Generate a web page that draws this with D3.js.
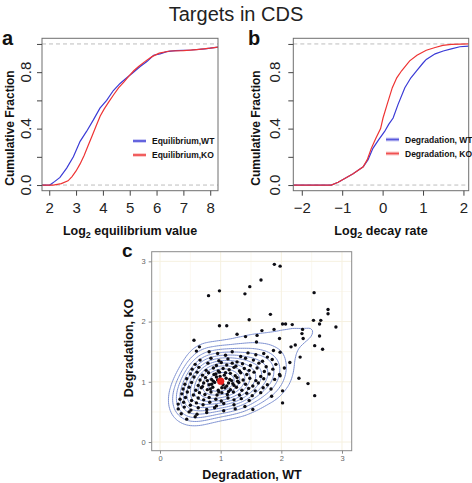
<!DOCTYPE html>
<html><head><meta charset="utf-8">
<script src="https://cdn.jsdelivr.net/npm/d3@7"></script>
<style>body{margin:0;background:#fff}svg{display:block;font-family:"Liberation Sans",Arial,sans-serif}</style>
</head><body><svg id="c" width="472" height="483"></svg>
<script>
// ---- data ----
const titleText = "Targets in CDS";
const eqTicks = [2,3,4,5,6,7,8];
const decayTicks = [-2,-1,0,1,2];
const fracTicks = [0,0.2,0.4,0.6,0.8,1.0];
const fracLabels = [0,0.4,0.8];
const scatTicks = [0,1,2,3];
// ECDF curves: [value, cumulative fraction]
const eqWT = [[2.02,0],[2.21,0.026],[2.40,0.054],[2.65,0.12],[2.90,0.20],[3.15,0.31],[3.39,0.38],[3.64,0.46],[3.89,0.545],[4.14,0.60],[4.39,0.67],[4.64,0.72],[4.89,0.76],[5.14,0.80],[5.39,0.84],[5.64,0.875],[5.89,0.92],[6.13,0.93],[6.38,0.945],[6.7,0.952],[7.3,0.957],[7.8,0.965],[8.29,0.978]];
const eqKO = [[2.15,0],[2.45,0.01],[2.7,0.03],[2.85,0.06],[3.0,0.10],[3.15,0.15],[3.3,0.21],[3.45,0.28],[3.6,0.35],[3.75,0.42],[3.9,0.49],[4.05,0.54],[4.22,0.59],[4.4,0.64],[4.59,0.69],[4.78,0.73],[4.96,0.77],[5.15,0.81],[5.33,0.84],[5.6,0.88],[5.83,0.91],[6.1,0.935],[6.5,0.95],[7.0,0.952],[7.5,0.96],[8.0,0.97],[8.29,0.978]];
const degWT = [[-1.27,0],[-1.1,0.02],[-0.98,0.04],[-0.73,0.08],[-0.48,0.13],[-0.36,0.18],[-0.24,0.26],[-0.1,0.32],[0.05,0.38],[0.15,0.43],[0.26,0.475],[0.38,0.57],[0.55,0.69],[0.7,0.76],[0.84,0.81],[1.0,0.865],[1.08,0.89],[1.3,0.93],[1.5,0.95],[1.7,0.965],[1.91,0.98],[2.13,0.985]];
const degKO = [[-1.27,0],[-1.1,0.02],[-0.98,0.04],[-0.73,0.08],[-0.48,0.13],[-0.38,0.18],[-0.28,0.26],[-0.17,0.33],[-0.05,0.40],[0.01,0.475],[0.11,0.57],[0.24,0.69],[0.35,0.76],[0.47,0.81],[0.67,0.88],[0.85,0.92],[1.08,0.955],[1.3,0.975],[1.49,0.99],[1.7,0.997],[2.13,1.0]];
// scatter: [Degradation WT, Degradation KO]
const scatterPts = [
[1.885,2.95],[1.98,2.92],[1.665,2.69],[1.48,2.58],[1.40,2.46],[0.98,2.51],[0.80,2.43],[2.54,2.48],[1.82,2.12],[1.47,2.03],[0.98,1.93],[1.10,1.93],[1.27,1.79],[0.56,1.69],[0.65,1.58],[0.60,1.51],[0.81,1.50],
[2.02,1.96],[2.07,1.96],[2.18,1.95],[1.88,1.87],[1.68,1.85],[1.60,1.77],[1.41,1.75],[1.59,1.66],[1.97,1.72],[2.35,1.87],[2.34,1.80],[2.36,1.72],[2.23,1.61],[2.16,1.58],[1.98,1.49],[1.87,1.52],[2.31,1.41],[2.14,1.32],[2.05,1.23],[1.98,1.10],[2.29,1.06],[2.44,0.97],[2.02,0.85],[1.84,0.76],[2.02,0.65],[2.55,0.77],
[2.77,2.13],[2.53,2.02],[2.65,2.02],[2.63,1.96],[2.77,2.20],[2.90,1.91],[2.63,1.76],[2.55,1.60],[2.68,1.54],
[0.95,1.47],[1.08,1.44],[1.19,1.50],[1.33,1.42],[1.45,1.48],[1.58,1.45],[1.71,1.47],[1.77,1.41],
[0.66,1.36],[0.84,1.39],[0.97,1.35],[1.12,1.38],[1.27,1.33],[1.41,1.39],[1.54,1.36],[1.69,1.34],[1.85,1.37],
[0.58,1.29],[0.79,1.31],[0.93,1.27],[1.01,1.32],[1.10,1.28],[1.19,1.31],[1.25,1.26],[1.36,1.30],[1.49,1.27],[1.63,1.31],[1.75,1.25],[1.91,1.29],
[0.53,1.21],[0.64,1.24],[0.76,1.19],[0.88,1.23],[0.96,1.18],[1.04,1.22],[1.14,1.20],[1.22,1.24],[1.31,1.18],[1.39,1.22],[1.47,1.19],[1.60,1.23],[1.72,1.17],[1.86,1.21],
[0.50,1.13],[0.61,1.16],[0.70,1.11],[0.80,1.15],[0.89,1.12],[0.98,1.16],[1.06,1.11],[1.16,1.14],[1.24,1.10],[1.33,1.15],[1.43,1.12],[1.55,1.16],[1.66,1.09],[1.80,1.13],[1.97,1.12],
[0.44,1.05],[0.56,1.08],[0.66,1.03],[0.75,1.07],[0.85,1.04],[0.93,1.08],[1.09,1.06],[1.18,1.02],[1.27,1.07],[1.37,1.03],[1.48,1.06],[1.58,1.02],[1.71,1.05],[1.89,1.04],
[0.41,0.96],[0.52,0.99],[0.63,0.94],[0.72,0.98],[0.81,0.95],[0.90,0.99],[1.04,0.95],[1.13,0.98],[1.22,0.94],[1.30,0.99],[1.41,0.96],[1.53,0.93],[1.62,0.98],[1.77,0.95],
[0.38,0.88],[0.48,0.91],[0.59,0.86],[0.68,0.90],[0.78,0.87],[0.87,0.91],[0.96,0.86],[1.07,0.90],[1.16,0.87],[1.26,0.91],[1.35,0.86],[1.46,0.89],[1.57,0.85],[1.70,0.90],[1.83,0.88],
[0.36,0.80],[0.45,0.83],[0.55,0.78],[0.65,0.82],[0.74,0.79],[0.84,0.83],[0.94,0.78],[1.02,0.82],[1.11,0.79],[1.21,0.83],[1.31,0.78],[1.43,0.81],[1.52,0.77],[1.66,0.82],
[0.33,0.71],[0.42,0.74],[0.52,0.69],[0.63,0.73],[0.72,0.70],[0.81,0.74],[0.92,0.71],[1.01,0.68],[1.12,0.73],[1.22,0.70],[1.34,0.72],[1.47,0.69],
[0.30,0.63],[0.39,0.66],[0.50,0.61],[0.60,0.65],[0.71,0.62],[0.82,0.66],[0.93,0.60],[1.05,0.64],[1.22,0.62],[1.40,0.59],
[0.30,0.55],[0.40,0.58],[0.51,0.53],[0.63,0.57],[0.77,0.54],[0.90,0.57],[1.05,0.52],[1.24,0.55],[1.53,0.54],
[0.35,0.47],[0.48,0.50],[0.61,0.46],[0.77,0.49],[0.44,0.38],[0.58,0.42],
[0.88,1.01],[0.95,1.03],[1.02,0.90],[1.10,0.93],[0.85,0.96],[0.99,1.09],[1.15,1.04],[0.92,1.13],[1.08,1.15],[0.78,1.02],[1.20,0.97],[0.83,0.88],[1.13,0.84],[0.97,0.83],[0.70,0.92],[1.28,1.01]
];
const centerPt = [1.0,1.01];
const contourFractions = [0.16,0.235,0.31,0.385,0.46,0.535,0.61,0.685,0.76,0.835,0.91];

// ---- drawing ----
const svg = d3.select("#c");
const BLUE = "#3b3bd6", RED = "#ee3333";
svg.append("text").attr("x",236).attr("y",21).attr("text-anchor","middle")
  .attr("font-size",20).attr("fill","#222").text(titleText);

function ecdfPanel(o){
  const x = d3.scaleLinear().domain(o.xdom).range([o.x0,o.x1]);
  const y = d3.scaleLinear().domain([-0.04,1.04]).range([190.7,38.3]);
  const g = svg.append("g");
  [0,1].forEach(v=>g.append("line").attr("x1",o.x0).attr("x2",o.x1).attr("y1",y(v)).attr("y2",y(v))
    .attr("stroke","#bdbdbd").attr("stroke-width",1).attr("stroke-dasharray","4,3"));
  const line = d3.line().x(d=>x(d[0])).y(d=>y(d[1]));
  const clipId = "clip"+o.id;
  g.append("clipPath").attr("id",clipId).append("rect").attr("x",o.x0).attr("y",38.3).attr("width",o.x1-o.x0).attr("height",152.4);
  const cg = g.append("g").attr("clip-path",`url(#${clipId})`);
  [[o.wt,BLUE],[o.ko,RED]].forEach(([s,c])=>{
    const pts = [[o.xdom[0],0]].concat(s);
    cg.append("path").attr("d",line(pts)).attr("fill","none").attr("stroke",c).attr("stroke-width",1.2);
  });
  g.append("rect").attr("x",o.x0).attr("y",38.3).attr("width",o.x1-o.x0).attr("height",152.4)
    .attr("fill","none").attr("stroke","#6e6e6e").attr("stroke-width",1);
  const xa = g.append("g").attr("transform","translate(0,190.7)")
    .call(d3.axisBottom(x).tickValues(o.xticks).tickSize(5).tickFormat(d3.format("d")));
  xa.select(".domain").remove();
  xa.selectAll("line").attr("stroke","#444");
  xa.selectAll("text").attr("font-size",15).attr("fill","#222").attr("dy","0.95em")
    .attr("font-family","Liberation Sans, Arial, sans-serif");
  const ya = g.append("g").attr("transform",`translate(${o.x0},0)`)
    .call(d3.axisLeft(y).tickValues(fracTicks).tickSize(5).tickFormat(""));
  ya.select(".domain").remove();
  ya.selectAll("line").attr("stroke","#444");
  fracLabels.forEach(v=>g.append("text").attr("transform",`translate(${o.ylabX},${y(v)}) rotate(-90)`)
    .attr("text-anchor","middle").attr("font-size",15).attr("fill","#222").text(d3.format(".1f")(v)));
  g.append("text").attr("transform",`translate(${o.ytitleX},128) rotate(-90)`).attr("text-anchor","middle")
    .attr("font-size",12).attr("font-weight","bold").attr("fill","#111").text("Cumulative Fraction");
  const xt = g.append("text").attr("x",(o.x0+o.x1)/2).attr("y",235).attr("text-anchor","middle")
    .attr("font-size",12.5).attr("font-weight","bold").attr("fill","#111");
  xt.append("tspan").text("Log");
  xt.append("tspan").attr("font-size",9).attr("dy",3).text("2");
  xt.append("tspan").attr("dy",-3).text(" "+o.xtitle);
  g.append("text").attr("x",o.labX).attr("y",45).attr("font-size",20).attr("font-weight","bold").attr("fill","#111").text(o.id);
  [[o.legWT,BLUE,o.legY[0]],[o.legKO,RED,o.legY[1]]].forEach(([t,c,yy])=>{
    g.append("line").attr("x1",o.legX).attr("x2",o.legX+13).attr("y1",yy).attr("y2",yy)
      .attr("stroke",c).attr("stroke-width",4).attr("stroke-opacity",0.25);
    g.append("line").attr("x1",o.legX).attr("x2",o.legX+13).attr("y1",yy).attr("y2",yy)
      .attr("stroke",c).attr("stroke-width",1.8).attr("stroke-opacity",0.8);
    g.append("text").attr("x",o.legX+19).attr("y",yy+3).attr("font-size",8.5).attr("font-weight","bold")
      .attr("fill","#111").text(t);
  });
}
ecdfPanel({id:"a",x0:42,x1:218,xdom:[1.73,8.29],xticks:eqTicks,wt:eqWT,ko:eqKO,ylabX:31,ytitleX:14,labX:2,
  xtitle:"equilibrium value",legWT:"Equilibrium,WT",legKO:"Equilibrium,KO",legX:133,legY:[141,155]});
ecdfPanel({id:"b",x0:293.3,x1:468.7,xdom:[-2.21,2.13],xticks:decayTicks,wt:degWT,ko:degKO,ylabX:280,ytitleX:260,labX:248,
  xtitle:"decay rate",legWT:"Degradation, WT",legKO:"Degradation, KO",legX:386,legY:[139.5,153.5]});

// panel c
(function(){
  const X0=151.7,X1=351.7,Y0=251.7,Y1=450.7;
  const x = d3.scaleLinear().domain([-0.137,3.16]).range([X0,X1]);
  const y = d3.scaleLinear().domain([-0.144,3.16]).range([Y1,Y0]);
  const g = svg.append("g");
  const grid=[0,0.5,1,1.5,2,2.5,3];
  grid.forEach(v=>{
    g.append("line").attr("x1",x(v)).attr("x2",x(v)).attr("y1",Y0).attr("y2",Y1).attr("stroke","#f6f1e0").attr("stroke-width",v%1?0.5:1);
    g.append("line").attr("y1",y(v)).attr("y2",y(v)).attr("x1",X0).attr("x2",X1).attr("stroke","#f6f1e0").attr("stroke-width",v%1?0.5:1);
  });
  g.append("clipPath").attr("id","clipc").append("rect").attr("x",X0).attr("y",Y0).attr("width",X1-X0).attr("height",Y1-Y0);
  const dens = d3.contourDensity().x(d=>x(d[0])).y(d=>y(d[1])).size([472,483]).bandwidth(12).cellSize(2);
  const cf = dens.contours(scatterPts);
  const contours = contourFractions.map(f=>cf(cf.max*f));
  g.append("g").attr("clip-path","url(#clipc)").selectAll("path").data(contours).join("path")
    .attr("d",d3.geoPath()).attr("fill","none").attr("stroke","#6f84cc").attr("stroke-width",0.9);
  g.append("g").selectAll("circle").data(scatterPts).join("circle")
    .attr("cx",d=>x(d[0])).attr("cy",d=>y(d[1])).attr("r",1.7).attr("fill","#0d0d14");
  g.append("circle").attr("cx",x(centerPt[0])).attr("cy",y(centerPt[1])).attr("r",3.6).attr("fill","#e8201c");
  g.append("rect").attr("x",X0).attr("y",Y0).attr("width",X1-X0).attr("height",Y1-Y0)
    .attr("fill","none").attr("stroke","#8a8a8a").attr("stroke-width",1);
  const xa = g.append("g").attr("transform",`translate(0,${Y1})`).call(d3.axisBottom(x).tickValues(scatTicks).tickSize(3).tickPadding(2).tickFormat(d3.format("d")));
  xa.select(".domain").remove();
  xa.selectAll("line").attr("stroke","#888");
  xa.selectAll("text").attr("font-size",7.5).attr("fill","#666");
  const ya = g.append("g").attr("transform",`translate(${X0},0)`).call(d3.axisLeft(y).tickValues(scatTicks).tickSize(3).tickPadding(3).tickFormat(d3.format("d")));
  ya.select(".domain").remove();
  ya.selectAll("line").attr("stroke","#888");
  ya.selectAll("text").attr("font-size",7.5).attr("fill","#666");
  g.append("text").attr("x",252).attr("y",479).attr("text-anchor","middle").attr("font-size",12.5).attr("font-weight","bold").attr("fill","#111").text("Degradation, WT");
  g.append("text").attr("transform","translate(133,348) rotate(-90)").attr("text-anchor","middle").attr("font-size",12.5).attr("font-weight","bold").attr("fill","#111").text("Degradation, KO");
  g.append("text").attr("x",122).attr("y",257).attr("font-size",19).attr("font-weight","bold").attr("fill","#111").text("c");
})();
</script></body></html>
